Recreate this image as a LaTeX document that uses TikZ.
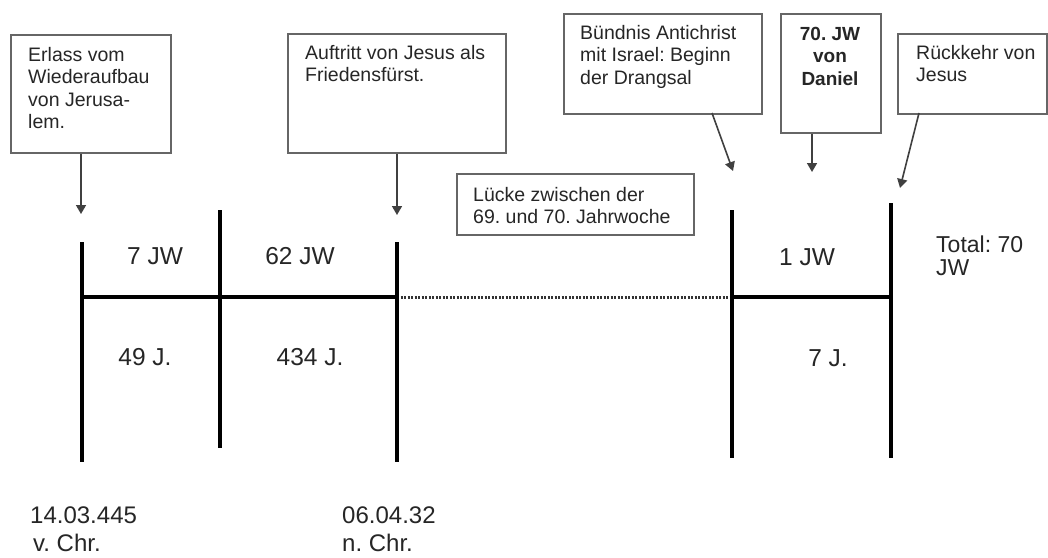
\documentclass[tikz,border=0pt]{standalone}
\usepackage{fontspec}
\setmainfont{Liberation Sans}
\usetikzlibrary{arrows.meta}
\frenchspacing
\begin{document}
\begin{tikzpicture}[x=1pt,y=-1pt,
  box/.style={draw=black!60, line width=1.8pt, fill=white, anchor=north west, inner sep=0pt},
  boxtext/.style={anchor=north west, inner sep=0pt, align=left, text=black!85,
    font=\fontsize{19.5}{22.5}\selectfont},
  arr/.style={draw=black!75, line width=1.6pt, -{Triangle[width=10pt,length=9pt]}},
  tl/.style={draw=black, line width=4pt},
  gap/.style={draw=black!80, line width=3pt, dash pattern=on 2pt off 1.5pt},
  lbl/.style={inner sep=0pt, text=black!85, font=\fontsize{24.5}{24}\selectfont},
  date/.style={anchor=west, inner sep=0pt, align=left, text=black!85, font=\fontsize{24}{28}\selectfont}]
\useasboundingbox (0,0) rectangle (1048,557);
\fill[white] (0,0) rectangle (1048,557);

% boxes
\node[box, minimum width=160pt, minimum height=118pt] (b1) at (10,34) {};
\node[boxtext] (b1t) at (28,47) {Erlass vom\\Wiederaufbau\\von Jerusa-\\lem.};
\node[box, minimum width=218pt, minimum height=119pt] (b2) at (287,33) {};
\node[boxtext] (b2t) at (305,45) {Auftritt von Jesus als\\Friedensfürst.};
\node[box, minimum width=198pt, minimum height=100pt] (b3) at (563,13) {};
\node[boxtext] (b3t) at (580,25) {Bündnis Antichrist\\mit Israel: Beginn\\der Drangsal};
\node[box, minimum width=100pt, minimum height=119pt] (b4) at (780,13) {};
\node[boxtext, anchor=north, align=center, font=\fontsize{19}{22.5}\selectfont\bfseries] (b4t) at (830,27) {70. JW\\von\\Daniel};
\node[box, minimum width=149pt, minimum height=80pt] (b5) at (897,33) {};
\node[boxtext] (b5t) at (916,45) {Rückkehr von\\Jesus};
\node[box, minimum width=237pt, minimum height=61pt] (b6) at (456,173) {};
\node[boxtext] (b6t) at (473,187) {Lücke zwischen der\\69. und 70. Jahrwoche};

% arrow targets
\coordinate (t1) at (81,214);
\coordinate (t2) at (397,215);
\coordinate (t3) at (733,171);
\coordinate (t4) at (812,172);
\coordinate (t5) at (900,188);
\coordinate (s3) at (712,113);
\coordinate (s5) at (919,113);
\draw[arr] (b1.south -| t1) -- (t1);
\draw[arr] (b2.south -| t2) -- (t2);
\draw[arr] (s3) -- (t3);
\draw[arr] (b4.south -| t4) -- (t4);
\draw[arr] (s5) -- (t5);

% timeline
\coordinate (v1a) at (82,242);  \coordinate (v1b) at (82,462);
\coordinate (v2a) at (220,210); \coordinate (v2b) at (220,448);
\coordinate (v3a) at (397,242); \coordinate (v3b) at (397,462);
\coordinate (v4a) at (732,210); \coordinate (v4b) at (732,458);
\coordinate (v5a) at (891,203); \coordinate (v5b) at (891,458);
\coordinate (h1) at (82,297);
\coordinate (h3) at (397,297);
\coordinate (h4) at (732,297);
\coordinate (h5) at (891,297);
\draw[gap] (h3) -- (h4);
\draw[tl] (h1) -- (h3);
\draw[tl] (h4) -- (h5);
\draw[tl] (v1a) -- (v1b);
\draw[tl] (v2a) -- (v2b);
\draw[tl] (v3a) -- (v3b);
\draw[tl] (v4a) -- (v4b);
\draw[tl] (v5a) -- (v5b);

% labels
\node[lbl] (l1) at (155,256) {7 JW};
\node[lbl] (l2) at (300,256) {62 JW};
\node[lbl] (l3) at (145,357) {49 J.};
\node[lbl] (l4) at (310,357) {434 J.};
\node[lbl] (l5) at (807,257) {1 JW};
\node[lbl] (l6) at (828,358) {7 J.};
\node[date, anchor=north west, font=\fontsize{23}{23}\selectfont] (tot) at (936,236) {Total: 70\\JW};
\node[date] (d1) at (30,529) {14.03.445\\\hspace{3pt}v. Chr.};
\node[date] (d2) at (342,529) {06.04.32\\n. Chr.};
\end{tikzpicture}
\end{document}
